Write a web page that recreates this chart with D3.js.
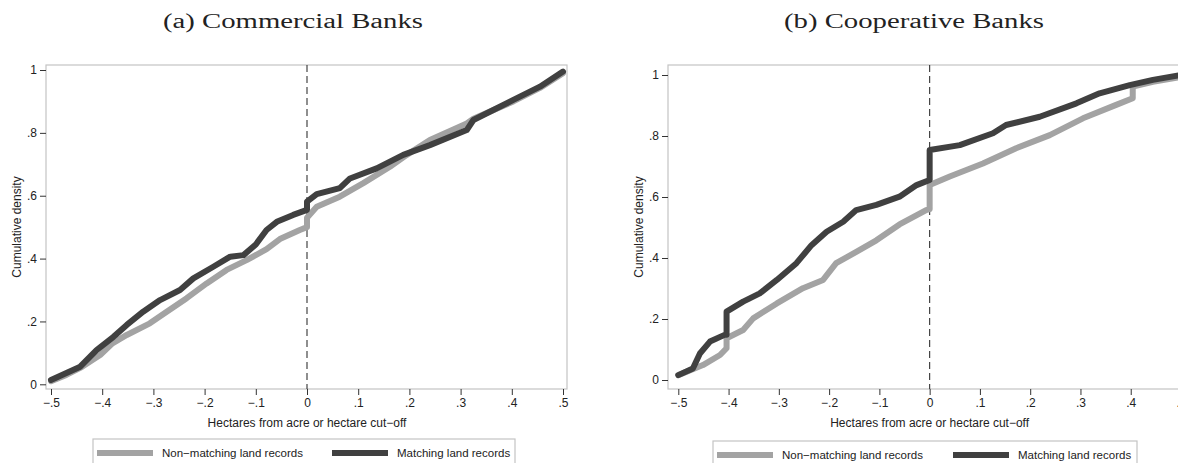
<!DOCTYPE html>
<html>
<head>
<meta charset="utf-8">
<script src="https://cdn.jsdelivr.net/npm/d3@7"></script>
<style>
  body { margin: 0; background: #fff; }
  svg { display: block; }
  text { font-family: "Liberation Sans", Arial, sans-serif; fill: #222; }
</style>
</head>
<body>
<svg id="chart"></svg>
<script>
// canvas
width = 1178;
height = 463;

svg = d3.select("#chart").attr("width", width).attr("height", height);

// ticks shared by both panels
xTicks = [-0.5, -0.4, -0.3, -0.2, -0.1, 0, 0.1, 0.2, 0.3, 0.4, 0.5];
yTicks = [0, 0.2, 0.4, 0.6, 0.8, 1];
seriesNames = ["Non\u2212matching land records", "Matching land records"];
seriesColors = ["#a3a3a3", "#404040"];

// (a) Commercial banks - CDF, [x, cumulative density]
commNonMatch = [
  [-0.5, 0.01], [-0.47, 0.03], [-0.44, 0.055], [-0.404, 0.093], [-0.38, 0.13],
  [-0.352, 0.157], [-0.307, 0.194], [-0.274, 0.231], [-0.235, 0.274], [-0.196, 0.321],
  [-0.157, 0.364], [-0.118, 0.395], [-0.079, 0.43], [-0.053, 0.462], [-0.014, 0.491],
  [0, 0.50], [0, 0.53], [0.019, 0.565], [0.064, 0.597], [0.11, 0.64], [0.162, 0.692],
  [0.195, 0.73], [0.24, 0.777], [0.312, 0.83], [0.325, 0.845], [0.403, 0.9],
  [0.455, 0.943], [0.5, 0.99]
];
commMatch = [
  [-0.5, 0.014], [-0.443, 0.056], [-0.411, 0.109], [-0.378, 0.151], [-0.352, 0.189],
  [-0.32, 0.231], [-0.287, 0.268], [-0.248, 0.3], [-0.222, 0.337], [-0.183, 0.374],
  [-0.15, 0.406], [-0.124, 0.411], [-0.1, 0.445], [-0.079, 0.491], [-0.059, 0.517],
  [-0.027, 0.539], [0, 0.555], [0, 0.581], [0.019, 0.605], [0.064, 0.624],
  [0.084, 0.655], [0.136, 0.687], [0.188, 0.73], [0.24, 0.761], [0.312, 0.809],
  [0.325, 0.841], [0.403, 0.905], [0.455, 0.947], [0.5, 0.995]
];

// (b) Cooperative banks
coopNonMatch = [
  [-0.5, 0.016], [-0.451, 0.049], [-0.417, 0.082], [-0.404, 0.104], [-0.404, 0.137],
  [-0.371, 0.164], [-0.351, 0.202], [-0.304, 0.251], [-0.252, 0.301], [-0.212, 0.328],
  [-0.186, 0.383], [-0.146, 0.42], [-0.106, 0.458], [-0.06, 0.51], [-0.007, 0.557],
  [0, 0.56], [0, 0.639], [0.04, 0.667], [0.106, 0.71], [0.172, 0.76], [0.239, 0.803],
  [0.305, 0.858], [0.371, 0.902], [0.404, 0.924], [0.404, 0.962], [0.444, 0.978],
  [0.5, 0.994]
];
coopMatch = [
  [-0.5, 0.016], [-0.471, 0.038], [-0.457, 0.087], [-0.437, 0.126], [-0.408, 0.148],
  [-0.404, 0.148], [-0.404, 0.224], [-0.371, 0.257], [-0.338, 0.284], [-0.304, 0.328],
  [-0.265, 0.383], [-0.235, 0.442], [-0.205, 0.486], [-0.172, 0.519], [-0.146, 0.557],
  [-0.106, 0.574], [-0.06, 0.601], [-0.026, 0.639], [0, 0.656], [0, 0.754],
  [0.06, 0.77], [0.126, 0.809], [0.152, 0.836], [0.219, 0.863], [0.292, 0.907],
  [0.338, 0.94], [0.398, 0.967], [0.444, 0.984], [0.5, 1.0]
];

panels = [
  { title: "(a) Commercial Banks", series: [commNonMatch, commMatch],
    frame: { x0: 46, x1: 567, y0: 65, y1: 389 }, xr: [51, 563], yr: [384.3, 70],
    titleX: 293, legend: { x0: 93, x1: 515, y0: 439 } },
  { title: "(b) Cooperative Banks", series: [coopNonMatch, coopMatch],
    frame: { x0: 668, x1: 1200, y0: 65, y1: 389 }, xr: [678.3, 1181], yr: [380, 75],
    titleX: 914, legend: { x0: 713, x1: 1137, y0: 441 } }
];

fmt = v => v === 0 ? "0" : v === 1 ? "1" : (v < 0 ? "\u2212" : "") + String(Math.abs(v)).replace(/^0/, "");

panels.forEach(p => {
  const g = svg.append("g");
  const x = d3.scaleLinear().domain([-0.5, 0.5]).range(p.xr);
  const y = d3.scaleLinear().domain([0, 1]).range(p.yr);
  const f = p.frame;

  // title
  g.append("text")
    .attr("x", p.titleX).attr("y", 28)
    .attr("text-anchor", "middle")
    .style("font-family", "'Liberation Serif', 'DejaVu Serif', serif")
    .style("font-size", "20px")
    .attr("fill", "#111")
    .attr("textLength", 260).attr("lengthAdjust", "spacingAndGlyphs")
    .text(p.title);

  // plot region outline
  g.append("rect")
    .attr("x", f.x0).attr("y", f.y0)
    .attr("width", f.x1 - f.x0).attr("height", f.y1 - f.y0)
    .attr("fill", "none").attr("stroke", "#c4c4c4").attr("stroke-width", 1.2);

  // y axis
  const yAxis = d3.axisLeft(y).tickValues(yTicks).tickFormat(fmt).tickSize(6).tickPadding(3);
  const ya = g.append("g").attr("transform", `translate(${f.x0},0)`).call(yAxis);
  ya.select(".domain").remove();
  ya.selectAll(".tick line").attr("stroke", "#333");
  ya.selectAll(".tick text").style("font-size", "12px").attr("fill", "#222")
    .style("font-family", "'Liberation Sans', Arial, sans-serif");

  // x axis
  const xAxis = d3.axisBottom(x).tickValues(xTicks).tickFormat(fmt).tickSize(6).tickPadding(3);
  const xa = g.append("g").attr("transform", `translate(0,${f.y1})`).call(xAxis);
  xa.select(".domain").remove();
  xa.selectAll(".tick line").attr("stroke", "#333");
  xa.selectAll(".tick text").style("font-size", "12px").attr("fill", "#222")
    .style("font-family", "'Liberation Sans', Arial, sans-serif");

  // axis titles
  g.append("text")
    .attr("x", x(0)).attr("y", 427)
    .attr("text-anchor", "middle").style("font-size", "12px")
    .text("Hectares from acre or hectare cut\u2212off");
  g.append("text")
    .attr("transform", `translate(${f.x0 - 25},${(f.y0 + f.y1) / 2}) rotate(-90)`)
    .attr("text-anchor", "middle").style("font-size", "12px")
    .text("Cumulative density");

  // cut-off line
  g.append("line")
    .attr("x1", x(0)).attr("x2", x(0)).attr("y1", f.y0).attr("y2", f.y1)
    .attr("stroke", "#333").attr("stroke-width", 1.1).attr("stroke-dasharray", "7,4");

  // CDF lines
  const line = d3.line().x(d => x(d[0])).y(d => y(d[1]));
  p.series.forEach((s, i) => {
    g.append("path")
      .datum(s)
      .attr("fill", "none")
      .attr("stroke", seriesColors[i])
      .attr("stroke-width", 6)
      .attr("stroke-linejoin", "round")
      .attr("stroke-linecap", "round")
      .attr("d", line);
  });

  // legend
  const L = p.legend;
  g.append("rect")
    .attr("x", L.x0).attr("y", L.y0)
    .attr("width", L.x1 - L.x0).attr("height", 40)
    .attr("fill", "#fff").attr("stroke", "#c4c4c4").attr("stroke-width", 1.2);
  const half = (L.x1 - L.x0) / 2;
  seriesNames.forEach((name, i) => {
    const sx = i === 0 ? L.x0 + 4 : L.x0 + half + 28;
    g.append("rect")
      .attr("x", sx).attr("y", L.y0 + 11)
      .attr("width", 56).attr("height", 6)
      .attr("fill", seriesColors[i]);
    g.append("text")
      .attr("x", sx + 65).attr("y", L.y0 + 18)
      .style("font-size", "11.5px")
      .text(name);
  });
});
</script>
</body>
</html>
